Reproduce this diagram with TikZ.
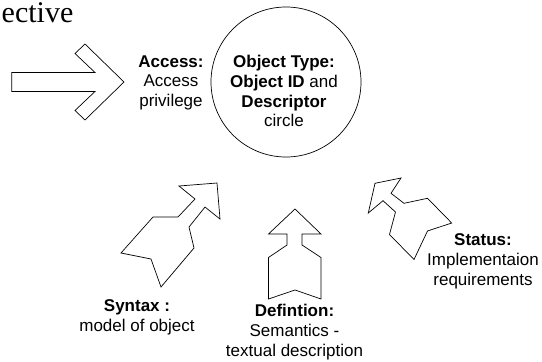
\documentclass[tikz,border=0pt]{standalone}
\usepackage{fontspec}
\setmainfont{Liberation Sans}
\newfontfamily\serifhead{Liberation Serif}
\usepackage{tikz}

\tikzset{
  blokk/.style={align=center, anchor=north, inner sep=0pt, font=\fontsize{17}{19.7}\selectfont},
  pil/.style={draw, line width=0.7pt, line join=miter}
}

\begin{document}
\begin{tikzpicture}[x=1pt, y=-1pt]
  \useasboundingbox (0,0) rectangle (542,362);

  % Overskrift (avkuttet)
  \node[anchor=base west, inner sep=0pt, font=\serifhead\fontsize{30}{36}\selectfont] (overskrift) at (1.5,22) {ective};

  % Pil mot venstre side
  \draw[pil] (11.7,72.5) -- (95,72.5) -- (75,53.5) -- (85,44) -- (124,82)
    -- (85,120) -- (75,110.5) -- (95,91.5) -- (11.7,91.5) -- cycle;

  % Tilgang
  \node[blokk] (tilgang) at (171,55.2) {\textbf{Access:}\\Access\\privilege};

  % Sirkelen
  \node[draw, circle, line width=0.7pt, minimum size=150pt, inner sep=0pt] (objekt) at (286,82) {};
  \node[blokk] (objekttekst) at (284,55.2) {\textbf{Object Type:}\\\textbf{Object ID} and\\\textbf{Descriptor}\\circle};

  % Syntaks
  \draw[pil] (217,183) -- (220,219) -- (205,207) -- (189,227) -- (194,248) -- (161,287)
    -- (151,259) -- (121,253) -- (153,217) -- (178,217) -- (195,199) -- (179,186) -- cycle;
  \node[blokk] (syntaks) at (137,299.4) {\textbf{Syntax :}\\model of object};

  % Definisjon
  \draw[pil] (295,209) -- (321,234) -- (302,234) -- (302,245) -- (321,257.5) -- (321,299)
    -- (295,290) -- (268.5,299) -- (268.5,257.5) -- (287,245) -- (287,234) -- (268.5,234) -- cycle;
  \node[blokk] (definisjon) at (294.5,304.4) {\textbf{Defintion:}\\Semantics -\\textual description};

  % Status
  \draw[pil] (375,183.3) -- (401,178) -- (391,193.3) -- (404,203.3) -- (427.5,198.3) -- (451.7,223)
    -- (427.5,231) -- (414,259.5) -- (389.5,234.5) -- (395.5,212) -- (383,200.7) -- (368.3,213) -- cycle;
  \node[blokk] (status) at (483,233.7) {\textbf{Status:}\\Implementaion\\requirements};
\end{tikzpicture}
\end{document}
